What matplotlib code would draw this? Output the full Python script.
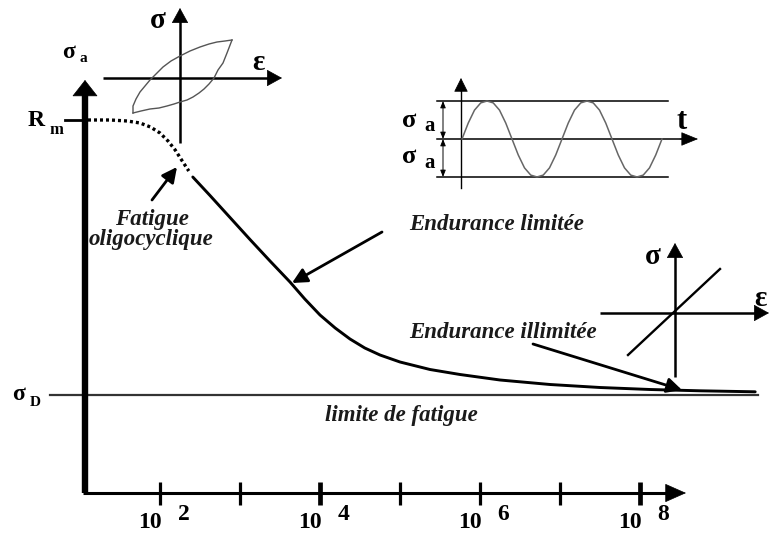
import matplotlib
matplotlib.use("Agg")
import matplotlib.pyplot as plt

# ------------------------------------------------------------------ data
# Wöhler (S-N) curve, x = log10(N cycles), y = stress amplitude (arbitrary units)
tick_exponents = [2, 3, 4, 5, 6, 7, 8]
labelled_exponents = [2, 4, 6, 8]
R_m = 373
sigma_D = 98
# oligocyclic fatigue part (dotted)
oligo_logN = [1.10, 1.38, 1.59, 1.75, 1.88, 2.00, 2.10, 2.19, 2.27, 2.36]
oligo_sigma = [373, 373, 372, 370, 366, 360, 352, 343, 333, 322]
# limited endurance part (solid)
wohler_logN = [2.41, 2.625, 2.875, 3.125, 3.375, 3.625, 3.81, 4.0, 4.19,
               4.375, 4.56, 4.75, 5.0, 5.375, 5.75, 6.25, 6.875, 7.5, 8.125,
               8.75, 9.44]
wohler_sigma = [316, 297.5, 275.5, 253.5, 232, 211, 194, 178, 165, 154, 145,
                138, 131, 123.5, 118.5, 113, 108.5, 105.5, 103.5, 102.2, 101.2]

# hysteresis loop (inset, strain / stress, arbitrary units)
loop_up_eps = [-47, -47, -44, -40, -35, -30, -24, -17, -9, 0, 10, 20, 29, 37, 45, 52]
loop_up_sig = [-35, -28, -21, -14, -8, -2, 4, 11, 17, 22, 27, 31, 34, 36, 37, 38]
loop_lo_eps = [-47, -39, -30, -21, -13, -6, 0, 7, 13, 19, 24, 29, 34, 38, 43, 47, 52]
loop_lo_sig = [-35, -33, -31, -30, -28, -26, -24, -22, -19, -15, -11, -6, 0, 8, 15, 25, 38]

# cyclic loading sigma(t)/sigma_a (inset), t in periods
sine_t = [i / 16 for i in range(33)]
sine_s = [0, 0.42, 0.76, 0.95, 1, 0.95, 0.76, 0.42, 0, -0.42, -0.76, -0.95, -1,
          -0.95, -0.76, -0.42, 0, 0.42, 0.76, 0.95, 1, 0.95, 0.76, 0.42, 0,
          -0.42, -0.76, -0.95, -1, -0.95, -0.76, -0.42, 0]

# elastic behaviour (inset)
elastic_eps = [-47, 45]
elastic_sig = [-42, 44]

# ------------------------------------------------------------------ figure
W, H = 771, 534
fig = plt.figure(figsize=(W / 100, H / 100), dpi=100)
fig.patch.set_facecolor("white")

SERIF = "Liberation Serif"


def box(px0, py0, px1, py1):
    return [px0 / W, (H - py1) / H, (px1 - px0) / W, (py1 - py0) / H]


ax = fig.add_axes([0, 0, 1, 1])
ax.set_xlim(0, W / 80)          # 80 px per decade
ax.set_ylim(-41, 493)           # 1 px per stress unit
ax.axis("off")

x0 = 85 / 80                    # origin of the axes (log N)
xend = 686 / 80                 # tip of x arrow

# main axes
ax.plot([x0, x0], [0, 398], color="k", lw=4.6, solid_capstyle="butt", zorder=5)
ax.annotate("", xy=(x0, 413), xytext=(x0, 397),
            arrowprops=dict(arrowstyle="-|>,head_length=11,head_width=8.6",
                            mutation_scale=1, lw=0.5, color="k",
                            shrinkA=0, shrinkB=0), zorder=5)
ax.plot([x0 - 0.03, xend - 0.2], [0, 0], color="k", lw=2.2,
        solid_capstyle="butt", zorder=5)
ax.annotate("", xy=(xend, 0), xytext=(xend - 0.25, 0),
            arrowprops=dict(arrowstyle="-|>,head_length=14,head_width=6.2",
                            mutation_scale=1, lw=0.5, color="k",
                            shrinkA=0, shrinkB=0), zorder=5)

# ticks and labels
for e in tick_exponents:
    lw = 3.4 if e in (4, 8) else 2.3
    ax.plot([e, e], [11, -12], color="k", lw=lw, solid_capstyle="butt", zorder=5)
for e in labelled_exponents:
    ax.text(e + 0.02, -29, "10", ha="right", va="center", family=SERIF,
            weight="bold", fontsize=17)
    ax.text(e + 0.22, -22, str(e), ha="left", va="center", family=SERIF,
            weight="bold", fontsize=17)

# Rm and sigma_D
ax.plot([65 / 80, x0], [R_m, R_m], color="k", lw=2.0, zorder=5)
ax.plot([50 / 80, 758 / 80], [sigma_D, sigma_D], color="#333333", lw=1.6, zorder=3)

ax.text(0.45, 373, "R", ha="center", va="center", family=SERIF,
        weight="bold", fontsize=17)
ax.text(0.70, 363, "m", ha="center", va="center", family=SERIF,
        weight="bold", fontsize=12)
ax.text(0.235, 98, "σ", ha="center", va="center", family=SERIF,
        weight="bold", fontsize=17)
ax.text(0.445, 91, "D", ha="center", va="center", family=SERIF,
        weight="bold", fontsize=11)
ax.text(0.86, 440, "σ", ha="center", va="center", family=SERIF,
        weight="bold", fontsize=17)
ax.text(1.04, 434, "a", ha="center", va="center", family=SERIF,
        weight="bold", fontsize=11)

# Wöhler curve
ax.plot(oligo_logN, oligo_sigma, color="k", lw=2.4, ls=(0, (0.9, 0.9)), zorder=4)
ax.plot(wohler_logN, wohler_sigma, color="k", lw=2.1, zorder=4,
        solid_capstyle="round", solid_joinstyle="round")

# annotations
ital = dict(family=SERIF, weight="bold", style="italic", fontsize=16.5,
            color="#1a1a1a", ha="center", va="center")
arrow_kw = dict(arrowstyle="-|>,head_length=9,head_width=4.5",
                mutation_scale=1, lw=2.0, color="k", shrinkA=0, shrinkB=0)

ax.annotate("", xy=(177 / 80, 326), xytext=(152 / 80, 293), arrowprops=arrow_kw)
ax.text(152 / 80, 273, "Fatigue", **ital)
ax.text(151 / 80, 253, "oligocyclique", **ital)

ax.annotate("", xy=(292 / 80, 210), xytext=(382 / 80, 261), arrowprops=arrow_kw)
ax.text(497 / 80, 268, "Endurance limitée", **ital)

ax.annotate("", xy=(682 / 80, 103), xytext=(533 / 80, 149), arrowprops=arrow_kw)
ax.text(503 / 80, 161, "Endurance illimitée", **ital)

ax.text(401 / 80, 78, "limite de fatigue", **ital)

# ------------------------------------------------------------------ inset 1: hysteresis loop
a1 = fig.add_axes(box(95, 0, 290, 150))
a1.set_xlim(-85, 110)
a1.set_ylim(-72, 78)
a1.axis("off")
a1.plot([0, 0], [-65, 58], color="k", lw=1.8, solid_capstyle="butt")
a1.annotate("", xy=(0, 70), xytext=(0, 56),
            arrowprops=dict(arrowstyle="-|>,head_length=10,head_width=5.5",
                            mutation_scale=1, lw=0.5, color="k",
                            shrinkA=0, shrinkB=0))
a1.plot([-77, 90], [0, 0], color="k", lw=1.8, solid_capstyle="butt")
a1.annotate("", xy=(102, 0), xytext=(88, 0),
            arrowprops=dict(arrowstyle="-|>,head_length=10,head_width=5.5",
                            mutation_scale=1, lw=0.5, color="k",
                            shrinkA=0, shrinkB=0))
a1.plot(loop_up_eps, loop_up_sig, color="#555555", lw=1.0)
a1.plot(loop_lo_eps, loop_lo_sig, color="#555555", lw=1.0)
a1.text(-22, 58, "σ", ha="center", va="center", family=SERIF, weight="bold",
        fontsize=21)
a1.text(78, 16, "ε", ha="center", va="center", family=SERIF, weight="bold",
        fontsize=21)

# ------------------------------------------------------------------ inset 2: sinusoidal loading
a2 = fig.add_axes(box(390, 70, 705, 195))
a2.set_xlim(-0.72, 2.43)
a2.set_ylim(-1.474, 1.816)
a2.axis("off")
a2.plot([-0.01, -0.01], [-1.29, 1.30], color="k", lw=1.0)
a2.annotate("", xy=(-0.01, 1.605), xytext=(-0.01, 1.25),
            arrowprops=dict(arrowstyle="-|>,head_length=9,head_width=4.5",
                            mutation_scale=1, lw=0.5, color="k",
                            shrinkA=0, shrinkB=0))
for s in (1, -1):
    a2.plot([-0.25, 2.06], [s, s], color="k", lw=1.1)
a2.plot([-0.25, 2.2], [0, 0], color="k", lw=1.1)
a2.annotate("", xy=(2.36, 0), xytext=(2.18, 0),
            arrowprops=dict(arrowstyle="-|>,head_length=11,head_width=4.5",
                            mutation_scale=1, lw=0.5, color="k",
                            shrinkA=0, shrinkB=0))
a2.plot(sine_t, sine_s, color="#666666", lw=1.1)
for s0, s1 in ((0, 1), (0, -1)):
    a2.annotate("", xy=(-0.19, s1), xytext=(-0.19, s0),
                arrowprops=dict(arrowstyle="<|-|>,head_length=4,head_width=1.6",
                                mutation_scale=1, lw=0.7, color="k",
                                shrinkA=0, shrinkB=0))
for sy in (0.5, -0.45):
    a2.text(-0.53, sy, "σ", ha="center", va="center", family=SERIF,
            weight="bold", fontsize=19)
    a2.text(-0.32, sy - 0.17, "a", ha="center", va="center", family=SERIF,
            weight="bold", fontsize=15)
a2.text(2.2, 0.45, "t", ha="center", va="center", family=SERIF, weight="bold",
        fontsize=22)

# ------------------------------------------------------------------ inset 3: elastic behaviour
a3 = fig.add_axes(box(590, 235, 771, 385))
a3.set_xlim(-85, 96)
a3.set_ylim(-72, 78)
a3.axis("off")
a3.plot([0, 0], [-64, 58], color="k", lw=1.8, solid_capstyle="butt")
a3.annotate("", xy=(0, 70), xytext=(0, 56),
            arrowprops=dict(arrowstyle="-|>,head_length=10,head_width=5.5",
                            mutation_scale=1, lw=0.5, color="k",
                            shrinkA=0, shrinkB=0))
a3.plot([-75, 82], [0, 0], color="k", lw=1.8, solid_capstyle="butt")
a3.annotate("", xy=(94, 0), xytext=(80, 0),
            arrowprops=dict(arrowstyle="-|>,head_length=10,head_width=5.5",
                            mutation_scale=1, lw=0.5, color="k",
                            shrinkA=0, shrinkB=0))
a3.plot(elastic_eps, elastic_sig, color="k", lw=1.7)
a3.text(-22, 56, "σ", ha="center", va="center", family=SERIF, weight="bold",
        fontsize=21)
a3.text(85, 15, "ε", ha="center", va="center", family=SERIF, weight="bold",
        fontsize=21)

fig.savefig("out.png", dpi=100, facecolor="white")
